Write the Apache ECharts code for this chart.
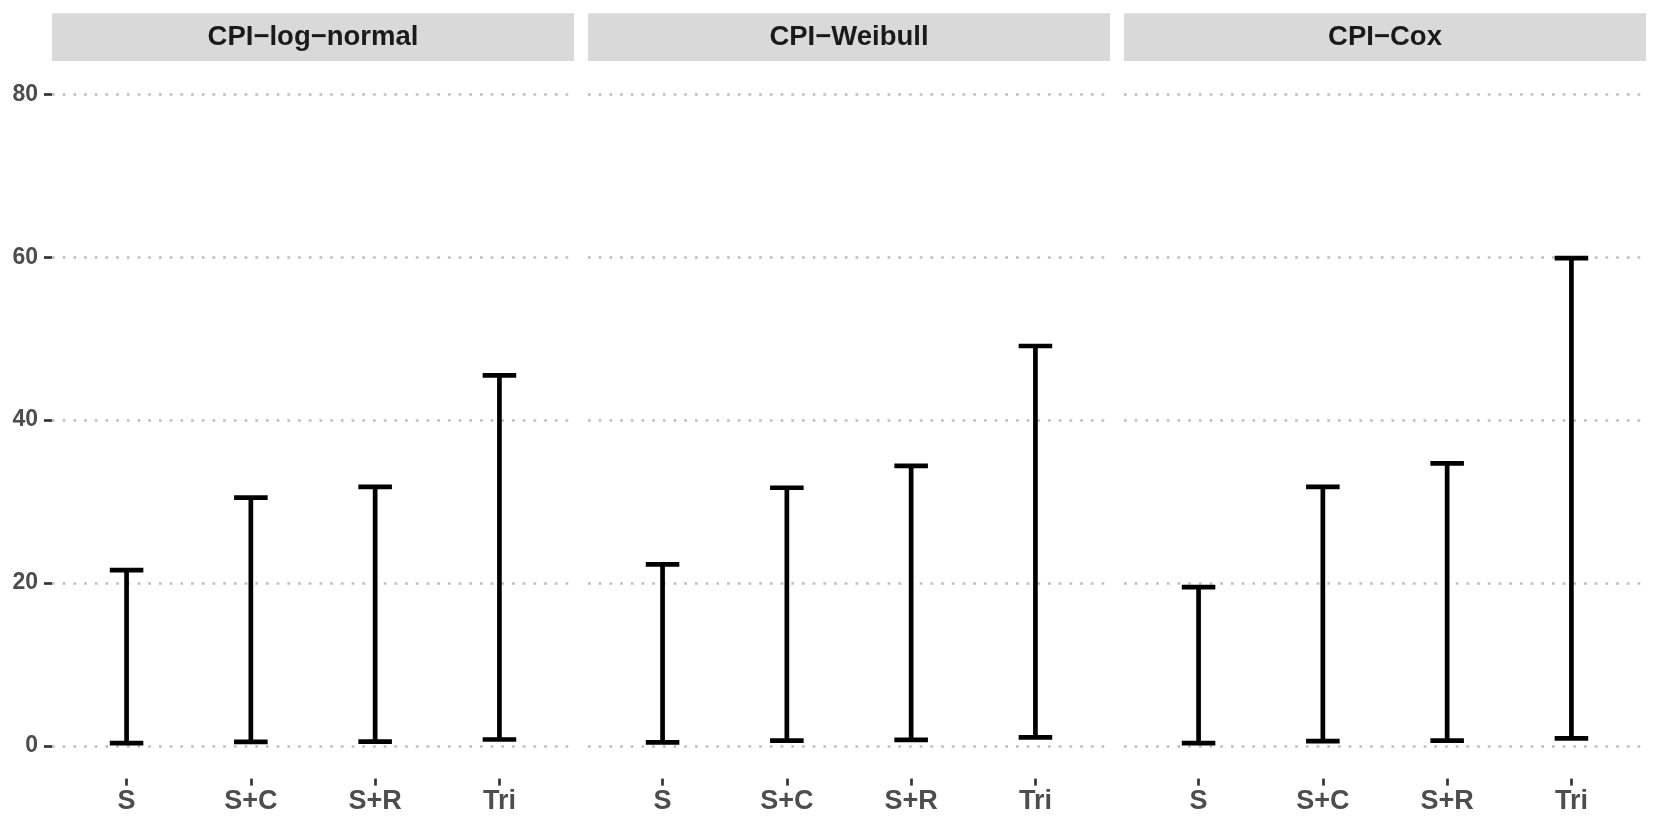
<!DOCTYPE html>
<html>
<head>
<meta charset="utf-8">
<script src="https://cdn.jsdelivr.net/npm/echarts@6/dist/echarts.min.js"></script>
<style>
html,body{margin:0;padding:0;background:#fff;}
#chart{width:1661px;height:830px;}
</style>
</head>
<body>
<div id="chart"></div>
<script>
// ---- data ----
const categories = ['S', 'S+C', 'S+R', 'Tri'];
const panelNames = ['CPI\u2212log\u2212normal', 'CPI\u2212Weibull', 'CPI\u2212Cox'];
const lognormalLow  = [0.35, 0.5, 0.55, 0.8];
const lognormalHigh = [21.6, 30.5, 31.8, 45.5];
const weibullLow    = [0.45, 0.65, 0.75, 1.05];
const weibullHigh   = [22.3, 31.7, 34.4, 49.1];
const coxLow        = [0.35, 0.6, 0.65, 0.95];
const coxHigh       = [19.5, 31.8, 34.7, 59.9];
const yTicks = [0, 20, 40, 60, 80];

const panelLows = [lognormalLow, weibullLow, coxLow];
const panelHighs = [lognormalHigh, weibullHigh, coxHigh];

// ---- layout ----
const FONT = '"Liberation Sans", Arial, Helvetica, sans-serif';
const panelLeft = [52, 588, 1124];
const panelW = 522;
const inset = panelW * 0.6 / 4.2 - panelW / 4.2 / 2; // category band alignment
const gridTop = 94.3;
const gridBottom = 830 - 745.8;     // y = 0 line
const panelBottom = 830 - 778.6;    // bottom edge of panel (x-axis position)
const yPad = 4;                     // lower expansion of panel below 0
const stripTop = 13.3, stripH = 47.8;

const grids = [], xAxes = [], yAxes = [], series = [], graphics = [];

panelNames.forEach(function (name, p) {
  const L = panelLeft[p];
  // background grid (full panel width) with dotted horizontal lines
  grids.push({ left: L, width: panelW, top: gridTop, bottom: gridBottom });
  xAxes.push({ type: 'value', gridIndex: 2 * p, min: 0, max: 1, show: false });
  yAxes.push({
    type: 'value', gridIndex: 2 * p, min: yTicks[0], max: yTicks[yTicks.length - 1], interval: 20,
    axisLine: { show: false },
    axisTick: { show: p === 0, length: 8, lineStyle: { color: '#333333', width: 2.7 } },
    axisLabel: { show: p === 0, margin: 14, fontFamily: FONT, fontWeight: 'bold', fontSize: 23, color: '#4D4D4D' },
    splitLine: { show: true, lineStyle: { color: '#BEBEBE', width: 2.7, type: [2.7, 8] } }
  });
  // data grid (inset so category band centres match), extends to panel bottom
  grids.push({ left: L + inset, width: panelW - 2 * inset, top: gridTop, bottom: panelBottom });
  xAxes.push({
    type: 'category', gridIndex: 2 * p + 1, data: categories, boundaryGap: true,
    position: 'bottom',
    axisLine: { show: false, onZero: false },
    axisTick: { show: true, alignWithLabel: true, length: 7, lineStyle: { color: '#333333', width: 2.7 } },
    axisLabel: { margin: 9, fontFamily: FONT, fontWeight: 'bold', fontSize: 27, color: '#4D4D4D' },
    splitLine: { show: false }
  });
  yAxes.push({ type: 'value', gridIndex: 2 * p + 1, min: -yPad, max: 80, show: false, splitLine: { show: false } });

  const data = categories.map(function (c, i) { return [i, panelLows[p][i], panelHighs[p][i]]; });
  series.push({
    type: 'custom', xAxisIndex: 2 * p + 1, yAxisIndex: 2 * p + 1, data: data,
    renderItem: function (params, api) {
      const x = api.value(0);
      const lo = api.coord([x, api.value(1)]);
      const hi = api.coord([x, api.value(2)]);
      const half = api.size([1, 0])[0] * 0.135;
      const style = { stroke: '#000', lineWidth: 4.7, lineCap: 'butt' };
      return {
        type: 'group',
        children: [
          { type: 'line', shape: { x1: lo[0], y1: lo[1], x2: hi[0], y2: hi[1] }, style: style },
          { type: 'line', shape: { x1: hi[0] - half, y1: hi[1], x2: hi[0] + half, y2: hi[1] }, style: style },
          { type: 'line', shape: { x1: lo[0] - half, y1: lo[1], x2: lo[0] + half, y2: lo[1] }, style: style }
        ]
      };
    }
  });

  graphics.push({
    type: 'rect', left: L, top: stripTop,
    shape: { width: panelW, height: stripH },
    style: { fill: '#D9D9D9' }, silent: true
  });
  graphics.push({
    type: 'text', x: L + panelW / 2, y: stripTop + stripH / 2,
    style: {
      text: name, fill: '#1A1A1A', font: 'bold 27.5px ' + FONT,
      textAlign: 'center', textVerticalAlign: 'middle'
    }, silent: true
  });
});

const chart = echarts.init(document.getElementById('chart'), null, { renderer: 'canvas' });
chart.setOption({
  backgroundColor: '#FFFFFF',
  animation: false,
  grid: grids,
  xAxis: xAxes,
  yAxis: yAxes,
  series: series,
  graphic: graphics
});
</script>
</body>
</html>
